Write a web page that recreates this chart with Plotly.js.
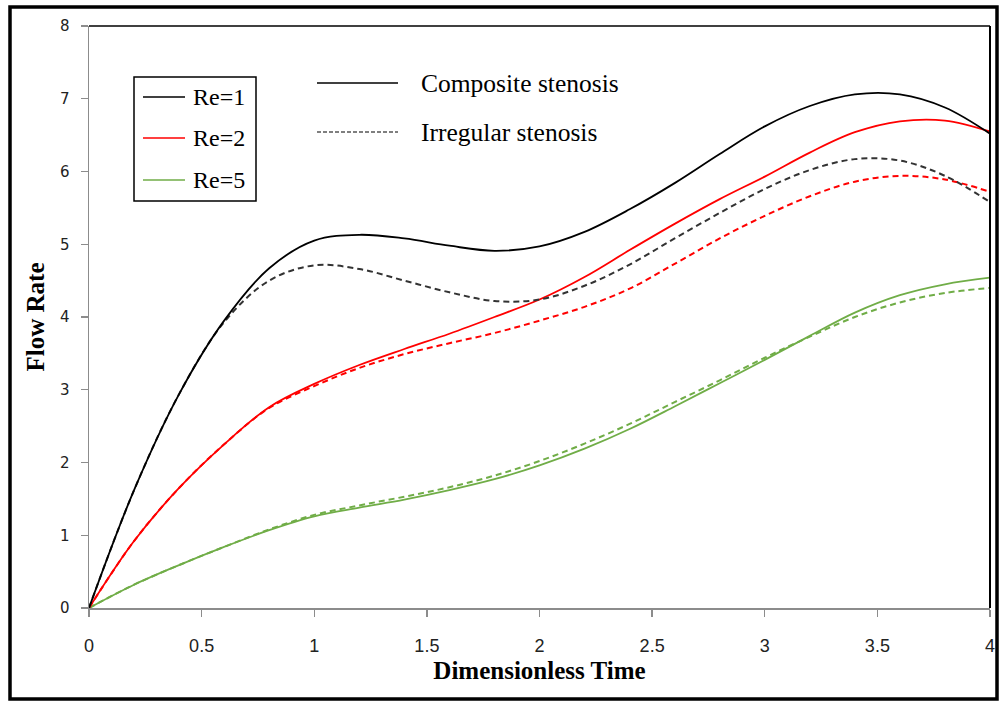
<!DOCTYPE html>
<html>
<head>
<meta charset="utf-8">
<script src="https://cdn.plot.ly/plotly-3.0.1.min.js"></script>
<style>
  html, body { margin: 0; padding: 0; background: #fff; }
  #chart { width: 1002px; height: 703px; }
</style>
</head>
<body>
<div id="chart"></div>
<script>
// Dimensionless time samples
const time = [0, 0.2, 0.4, 0.6, 0.8, 1.0, 1.2, 1.4, 1.6, 1.8, 2.0,
              2.2, 2.4, 2.6, 2.8, 3.0, 3.2, 3.4, 3.6, 3.8, 4.0];

// Flow rate, composite stenosis
const compositeRe1 = [0, 1.62, 2.94, 3.95, 4.67, 5.05, 5.13, 5.08, 4.98, 4.91, 4.97,
                      5.17, 5.48, 5.84, 6.24, 6.62, 6.90, 7.06, 7.06, 6.88, 6.52];
const compositeRe2 = [0, 0.92, 1.65, 2.25, 2.76, 3.08, 3.34, 3.56, 3.77, 4.00, 4.24,
                      4.55, 4.92, 5.28, 5.62, 5.93, 6.26, 6.54, 6.69, 6.70, 6.55];
const compositeRe5 = [0, 0.32, 0.59, 0.84, 1.07, 1.26, 1.38, 1.49, 1.62, 1.77, 1.96,
                      2.19, 2.46, 2.77, 3.09, 3.41, 3.74, 4.06, 4.30, 4.45, 4.54];

// Flow rate, irregular stenosis
const irregularRe1 = [0, 1.62, 2.94, 3.93, 4.50, 4.71, 4.66, 4.50, 4.34, 4.22, 4.24,
                      4.43, 4.72, 5.08, 5.43, 5.76, 6.02, 6.17, 6.15, 5.94, 5.58];
const irregularRe2 = [0, 0.92, 1.65, 2.25, 2.75, 3.05, 3.30, 3.49, 3.64, 3.78, 3.95,
                      4.14, 4.39, 4.73, 5.08, 5.39, 5.66, 5.86, 5.94, 5.89, 5.72];
const irregularRe5 = [0, 0.32, 0.59, 0.84, 1.08, 1.28, 1.41, 1.53, 1.66, 1.82, 2.02,
                      2.26, 2.53, 2.83, 3.13, 3.44, 3.73, 4.00, 4.20, 4.33, 4.40];

const reLabels = ['Re=1', 'Re=2', 'Re=5'];
const caseLabels = ['Composite stenosis', 'Irregular stenosis'];
const xTicks = [0, 0.5, 1, 1.5, 2, 2.5, 3, 3.5, 4];
const xTickText = ['0', '0.5', '1', '1.5', '2', '2.5', '3', '3.5', '4'];

const colors = ['#000000', '#ff0000', '#70ad47'];

// plot-area geometry (pixels) used to place the hand-drawn keys
const L = 89, R = 12, T = 26, B = 95, W = 1002, H = 703;
const pw = W - L - R, ph = H - T - B;
const px = v => (v - L) / pw;
const py = v => (H - B - v) / ph;

function curve(y, color, dashed) {
  return {
    x: time, y: y, type: 'scatter', mode: 'lines', showlegend: false,
    hoverinfo: 'x+y',
    line: { color: color, width: dashed ? 2 : 1.8, shape: 'spline', smoothing: 1,
            dash: dashed ? '6px,4px' : 'solid' }
  };
}

const traces = [
  curve(irregularRe5, colors[2], true),
  curve(compositeRe5, colors[2], false),
  curve(irregularRe2, colors[1], true),
  curve(compositeRe2, colors[1], false),
  curve(irregularRe1, '#333333', true),
  curve(compositeRe1, colors[0], false)
];

const serif = 'Liberation Serif, Times New Roman, serif';

const shapes = [
  // outer frame
  { type: 'rect', xref: 'paper', yref: 'paper',
    x0: px(10), x1: px(997), y0: py(699), y1: py(7),
    line: { color: '#000', width: 3.5 } },
  // plot-area top and right edges
  { type: 'line', xref: 'paper', yref: 'paper', x0: 0, x1: 1, y0: 1, y1: 1,
    line: { color: '#000', width: 1.5 } },
  { type: 'line', xref: 'paper', yref: 'paper', x0: 1, x1: 1, y0: 0, y1: 1,
    line: { color: '#000', width: 2 } },
  // Reynolds-number key box
  { type: 'rect', xref: 'paper', yref: 'paper',
    x0: px(134), x1: px(256), y0: py(201), y1: py(77),
    line: { color: '#000', width: 1.5 } }
];
const annotations = [];

const keyRows = [97, 138, 180];
reLabels.forEach((lab, i) => {
  shapes.push({ type: 'line', xref: 'paper', yref: 'paper',
    x0: px(143), x1: px(185), y0: py(keyRows[i]), y1: py(keyRows[i]),
    line: { color: colors[i], width: 1.3 } });
  annotations.push({ xref: 'paper', yref: 'paper', x: px(191), y: py(keyRows[i]),
    xanchor: 'left', yanchor: 'middle', showarrow: false, text: lab,
    font: { family: serif, size: 24, color: '#000' } });
});

// stenosis-type key
const caseRows = [83, 132];
caseLabels.forEach((lab, i) => {
  shapes.push({ type: 'line', xref: 'paper', yref: 'paper',
    x0: px(317), x1: px(398), y0: py(caseRows[i]), y1: py(caseRows[i]),
    line: { color: '#000', width: i === 0 ? 1.5 : 1.2, dash: i === 0 ? 'solid' : '4px,2px' } });
  annotations.push({ xref: 'paper', yref: 'paper', x: px(419), y: py(caseRows[i]),
    xanchor: 'left', yanchor: 'middle', showarrow: false, text: lab,
    font: { family: serif, size: 25.5, color: '#000' } });
});

const layout = {
  width: W, height: H,
  margin: { l: L, r: R, t: T, b: B, pad: 0 },
  paper_bgcolor: '#fff', plot_bgcolor: '#fff',
  showlegend: false,
  xaxis: {
    range: [0, 4], tickvals: xTicks, ticktext: xTickText,
    showgrid: false, zeroline: false,
    showline: true, linecolor: '#8c8c8c', linewidth: 1.5,
    ticks: 'outside', ticklen: 7, tickwidth: 1.3, tickcolor: '#8c8c8c',
    ticklabelstandoff: 14,
    tickfont: { family: 'Liberation Sans Narrow, Liberation Sans, Arial, sans-serif', size: 18, color: '#222' },
    title: { text: 'Dimensionless Time', standoff: 6,
             font: { family: serif, size: 25, color: '#000', weight: 'bold' } }
  },
  yaxis: {
    range: [0, 8], dtick: 1, tick0: 0,
    showgrid: false, zeroline: false,
    showline: true, linecolor: '#8c8c8c', linewidth: 1.5,
    ticks: 'outside', ticklen: 7, tickwidth: 1.3, tickcolor: '#8c8c8c',
    ticklabelstandoff: 8,
    tickfont: { family: 'DejaVu Sans, Verdana, sans-serif', size: 15, color: '#222' },
    title: { text: 'Flow Rate', standoff: 8,
             font: { family: serif, size: 25, color: '#000', weight: 'bold' } }
  },
  shapes: shapes,
  annotations: annotations
};

Plotly.newPlot('chart', traces, layout, { displayModeBar: false, staticPlot: true });
</script>
</body>
</html>
